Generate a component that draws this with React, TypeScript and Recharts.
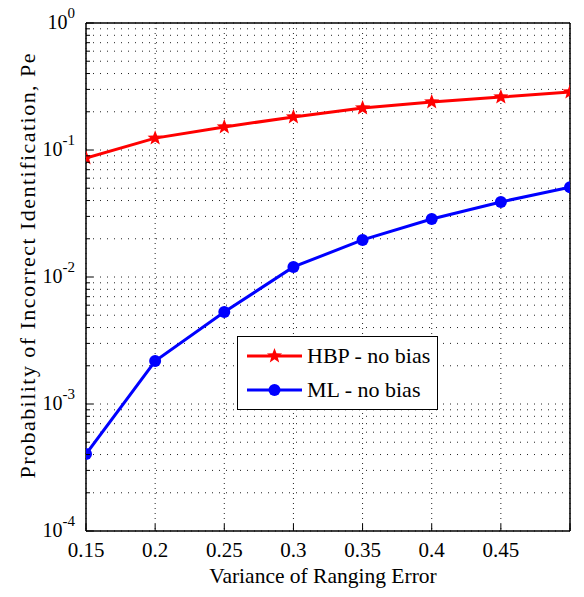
import {
  CartesianGrid,
  Legend,
  Line,
  LineChart,
  ReferenceLine,
  XAxis,
  YAxis,
} from "recharts";

// variance of ranging error
const variance = [0.15, 0.2, 0.25, 0.3, 0.35, 0.4, 0.45, 0.5];
// probability of incorrect identification
const hbpNoBias = [0.0865, 0.124, 0.152, 0.182, 0.214, 0.239, 0.261, 0.286];
const mlNoBias = [0.000404, 0.00218, 0.0053, 0.012, 0.0196, 0.0286, 0.039, 0.051];

const xTicks = [0.15, 0.2, 0.25, 0.3, 0.35, 0.4, 0.45, 0.5];
const xTickLabels = ["0.15", "0.2", "0.25", "0.3", "0.35", "0.4", "0.45", ""];
const decades = [-4, -3, -2, -1];
const minorSteps = [1, 2, 3, 4, 5, 6, 7, 8, 9];

const yTicks: number[] = [];
decades.forEach((d) => minorSteps.forEach((m) => yTicks.push(m * Math.pow(10, d))));
yTicks.push(1);

const data = variance.map((x, i) => ({ x, hbp: hbpNoBias[i], ml: mlNoBias[i] }));

const serif = { fontFamily: "'Liberation Serif', serif" };

function starPath(cx: number, cy: number, r: number) {
  const pts: string[] = [];
  for (let i = 0; i < 10; i++) {
    const rad = i % 2 === 0 ? r : r * 0.42;
    const a = -Math.PI / 2 + (i * Math.PI) / 5;
    pts.push(`${cx + rad * Math.cos(a)},${cy + rad * Math.sin(a)}`);
  }
  return `M${pts.join("L")}Z`;
}

function isDecade(v: number) {
  const l = Math.log10(v);
  return Math.abs(l - Math.round(l)) < 1e-9;
}

function YTick(props: any) {
  const { x, y, payload } = props;
  const v = payload.value as number;
  const major = isDecade(v);
  return (
    <g>
      <line x1={x} x2={x + (major ? 7 : 4)} y1={y} y2={y} stroke="#000" />
      {major && (
        <text x={x - 11} y={y + 6} textAnchor="end" fontSize={20} style={serif} fill="#000">
          <tspan>10</tspan>
          <tspan dy={-11} fontSize={15}>
            {String(Math.round(Math.log10(v)))}
          </tspan>
        </text>
      )}
    </g>
  );
}

function XTick(props: any) {
  const { x, y, index } = props;
  return (
    <g>
      <line x1={x} x2={x} y1={y} y2={y - 7} stroke="#000" />
      <text x={x} y={y + 26} textAnchor="middle" fontSize={21} style={serif} fill="#000">
        {xTickLabels[index]}
      </text>
    </g>
  );
}

function YLabel() {
  return (
    <text
      transform="translate(35,266) rotate(-90)"
      x={0}
      y={0}
      textAnchor="middle"
      fontSize={22}
      style={serif}
      fill="#000"
      textLength={425}
      lengthAdjust="spacing"
    >
      Probability of Incorrect Identification, Pe
    </text>
  );
}

function XLabel(props: any) {
  const { viewBox } = props;
  return (
    <text
      x={viewBox.x + viewBox.width / 2 - 5}
      y={583}
      textAnchor="middle"
      fontSize={21.5}
      style={serif}
      fill="#000"
    >
      Variance of Ranging Error
    </text>
  );
}

function LegendBox() {
  return (
    <svg width={201} height={74} style={{ display: "block" }}>
      <rect x={0.5} y={0.5} width={200} height={73} fill="#fff" stroke="#000" />
      <line x1={10} x2={65} y1={20} y2={20} stroke="#ff0000" strokeWidth={3} />
      <path d={starPath(37.5, 20, 8)} fill="#ff0000" />
      <text x={70} y={27} fontSize={22} style={serif} fill="#000">
        HBP - no bias
      </text>
      <line x1={10} x2={65} y1={54} y2={54} stroke="#0000ff" strokeWidth={3} />
      <circle cx={37.5} cy={54} r={6} fill="#0000ff" />
      <text x={70} y={61} fontSize={22} style={serif} fill="#000">
        ML - no bias
      </text>
    </svg>
  );
}

export default function App() {
  return (
    <div style={{ position: "absolute", left: 0, top: 0, background: "#fff" }}>
      <LineChart
        width={584}
        height={597}
        data={data}
        margin={{ top: 23, right: 14, left: 0, bottom: 0 }}
      >
        <CartesianGrid vertical={false} stroke="#222" strokeDasharray="1 6" />
        <CartesianGrid horizontal={false} stroke="#222" strokeDasharray="1 4" />
        <XAxis
          dataKey="x"
          type="number"
          domain={[0.15, 0.5]}
          ticks={xTicks}
          interval={0}
          allowDataOverflow
          height={66}
          tickSize={0}
          tickMargin={0}
          tickLine={false}
          tick={<XTick />}
          axisLine={{ stroke: "#000", strokeWidth: 1.5 }}
          label={<XLabel />}
        />
        <YAxis
          type="number"
          scale="log"
          domain={[1e-4, 1]}
          ticks={yTicks}
          interval={0}
          allowDataOverflow
          width={86}
          tickSize={0}
          tickMargin={0}
          tickLine={false}
          tick={<YTick />}
          axisLine={{ stroke: "#000", strokeWidth: 1.5 }}
          label={<YLabel />}
        />
        <ReferenceLine y={1} stroke="#000" strokeWidth={1.5} />
        <ReferenceLine x={0.5} stroke="#000" strokeWidth={1.5} />
        <Legend
          layout="horizontal"
          verticalAlign="middle"
          align="center"
          wrapperStyle={{ left: 237, top: 336, width: 201, height: 74 }}
          content={() => <LegendBox />}
        />
        <Line
          dataKey="hbp"
          stroke="#ff0000"
          strokeWidth={3}
          isAnimationActive={false}
          dot={(p: any) => (
            <path key={`hbp-${p.index}`} d={starPath(p.cx, p.cy, 8)} fill="#ff0000" />
          )}
        />
        <Line
          dataKey="ml"
          stroke="#0000ff"
          strokeWidth={3}
          isAnimationActive={false}
          dot={(p: any) => (
            <circle key={`ml-${p.index}`} cx={p.cx} cy={p.cy} r={6} fill="#0000ff" />
          )}
        />
      </LineChart>
    </div>
  );
}
